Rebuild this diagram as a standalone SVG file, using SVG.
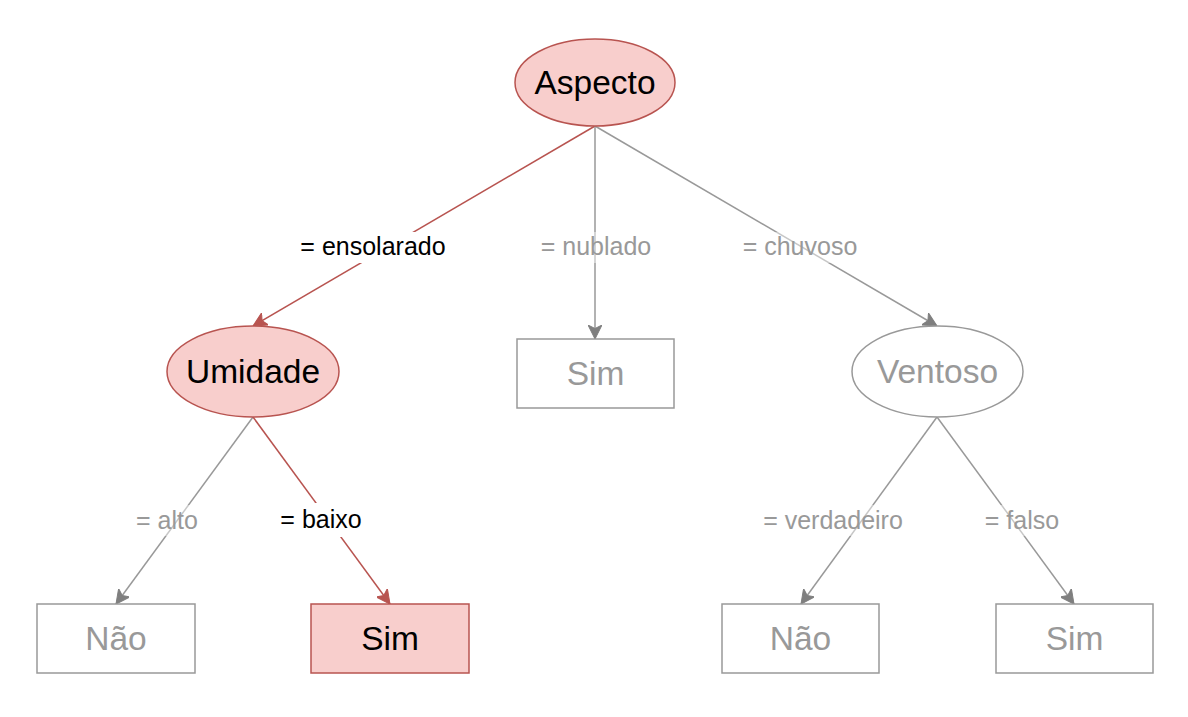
<svg xmlns="http://www.w3.org/2000/svg" width="1188" height="717" viewBox="0 0 1188 717">
<style>
.red{fill:#f8cecc;stroke:#b85450;stroke-width:1.5}
.gray{fill:#ffffff;stroke:#999999;stroke-width:1.5}
.nt{font-family:"Liberation Sans",Arial,sans-serif;font-size:33.5px;text-anchor:middle}
.lt{font-family:"Liberation Sans",Arial,sans-serif;font-size:25px;text-anchor:middle}
.dark{fill:#000000}
.light{fill:#999999}
.er{fill:none;stroke:#b85450;stroke-width:1.5}
.eg{fill:none;stroke:#999999;stroke-width:1.5}
</style>
<defs>
<marker id="ar" markerUnits="userSpaceOnUse" markerWidth="14" markerHeight="14" viewBox="0 0 14 14" refX="14" refY="7" orient="auto">
<path d="M0,0 L14,7 L0,14 L3.5,7 Z" fill="#b85450" stroke="#b85450" stroke-width="1"/>
</marker>
<marker id="ag" markerUnits="userSpaceOnUse" markerWidth="14" markerHeight="14" viewBox="0 0 14 14" refX="14" refY="7" orient="auto">
<path d="M0,0 L14,7 L0,14 L3.5,7 Z" fill="#7f7f7f" stroke="#7f7f7f" stroke-width="1"/>
</marker>
</defs>
<rect width="1188" height="717" fill="#ffffff"/>
<g id="connectors">
<line class="er" x1="595" y1="126" x2="253" y2="326" marker-end="url(#ar)"/>
<line class="eg" x1="595" y1="126" x2="595" y2="339" marker-end="url(#ag)"/>
<line class="eg" x1="595" y1="126" x2="937" y2="326" marker-end="url(#ag)"/>
<line class="eg" x1="253" y1="417" x2="116" y2="604" marker-end="url(#ag)"/>
<line class="er" x1="253" y1="417" x2="390" y2="604" marker-end="url(#ar)"/>
<line class="eg" x1="937" y1="417" x2="801" y2="604" marker-end="url(#ag)"/>
<line class="eg" x1="937" y1="417" x2="1074" y2="604" marker-end="url(#ag)"/>
<g id="labels">
<rect x="298" y="232" width="150" height="31" fill="#ffffff"/>
<text class="lt dark" x="373" y="255">= ensolarado</text>
<rect x="538" y="232" width="116" height="31" fill="#ffffff" opacity="0.45"/>
<text class="lt light" x="596" y="255">= nublado</text>
<rect x="740" y="232" width="120" height="31" fill="#ffffff" opacity="0.45"/>
<text class="lt light" x="800" y="255">= chuvoso</text>
<rect x="134" y="505" width="66" height="31" fill="#ffffff" opacity="0.45"/>
<text class="lt light" x="167" y="529">= alto</text>
<rect x="278" y="503" width="86" height="34" fill="#ffffff"/>
<text class="lt dark" x="321" y="528">= baixo</text>
<rect x="761" y="505" width="145" height="31" fill="#ffffff" opacity="0.45"/>
<text class="lt light" x="833" y="529">= verdadeiro</text>
<rect x="983" y="505" width="78" height="31" fill="#ffffff" opacity="0.45"/>
<text class="lt light" x="1022" y="529">= falso</text>
</g>
</g>
<g id="aspecto">
<ellipse class="red" cx="595" cy="82.5" rx="80" ry="43.5"/>
<text class="nt dark" x="595" y="94">Aspecto</text>
</g>
<g id="umidade">
<ellipse class="red" cx="253" cy="371.5" rx="86" ry="45.5"/>
<text class="nt dark" x="253" y="383">Umidade</text>
</g>
<g id="sim-nublado">
<rect class="gray" x="517" y="339" width="157" height="69"/>
<text class="nt light" x="595.5" y="385">Sim</text>
</g>
<g id="ventoso">
<ellipse class="gray" cx="937.5" cy="371.5" rx="85.5" ry="45.5"/>
<text class="nt light" x="937.5" y="383">Ventoso</text>
</g>
<g id="nao-alto">
<rect class="gray" x="37" y="604" width="158" height="69"/>
<text class="nt light" x="116" y="650">Não</text>
</g>
<g id="sim-baixo">
<rect class="red" x="311" y="604" width="158" height="69"/>
<text class="nt dark" x="390" y="650">Sim</text>
</g>
<g id="nao-verdadeiro">
<rect class="gray" x="722" y="604" width="157" height="69"/>
<text class="nt light" x="800.5" y="650">Não</text>
</g>
<g id="sim-falso">
<rect class="gray" x="996" y="604" width="157" height="69"/>
<text class="nt light" x="1074.5" y="650">Sim</text>
</g>
</svg>
